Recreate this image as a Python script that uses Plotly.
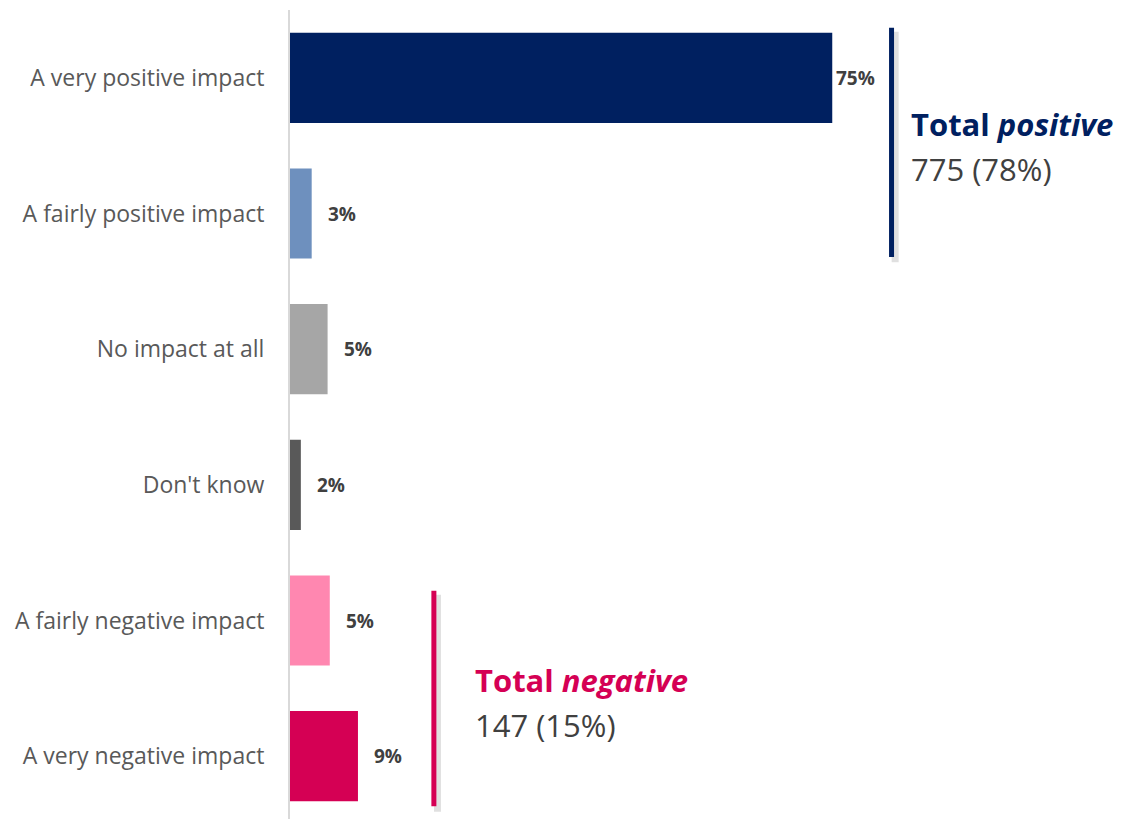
import plotly.graph_objects as go

categories = ["A very positive impact", "A fairly positive impact", "No impact at all",
              "Don't know", "A fairly negative impact", "A very negative impact"]
values = [75.0, 3.0, 5.2, 1.5, 5.5, 9.4]
value_labels = ["75%", "3%", "5%", "2%", "5%", "9%"]
colors = ["#002060", "#6E90BE", "#A6A6A6", "#595959", "#FF87B0", "#D50054"]
label_shift = [2, 14, 14, 14, 14, 14]

pos_title, pos_value = "Total", "positive"
pos_count = "775 (78%)"
neg_title, neg_value = "Total", "negative"
neg_count = "147 (15%)"

FONT = "'Open Sans', Calibri, sans-serif"
NAVY = "#002060"
CRIMSON = "#D50054"

fig = go.Figure()
fig.add_trace(go.Bar(
    y=categories, x=values, orientation="h",
    marker=dict(color=colors, line=dict(width=0)),
    hoverinfo="skip",
))

for cat, v, t, s in zip(categories, values, value_labels, label_shift):
    fig.add_annotation(x=v, y=cat, text=f"<b>{t}</b>", showarrow=False,
                       xanchor="left", xshift=s, yanchor="middle",
                       font=dict(family=FONT, size=19, color="#404040"))

# brackets (with soft shadow)
def bracket(x, y0, y1, color):
    fig.add_shape(type="line", x0=x + 0.5, x1=x + 0.5, y0=y0 + 0.03, y1=y1 + 0.04,
                  xref="x", yref="y",
                  line=dict(color="rgba(0,0,0,0.12)", width=7), layer="below")
    fig.add_shape(type="line", x0=x, x1=x, y0=y0, y1=y1, xref="x", yref="y",
                  line=dict(color=color, width=5))

bracket(83.2, -0.37, 1.32, NAVY)
bracket(19.9, 3.78, 5.37, CRIMSON)

def block(x, y_title, y_count, title, value, count, color):
    fig.add_annotation(x=x, y=y_title, xref="x", yref="y", xanchor="left", yanchor="middle",
                       showarrow=False,
                       text=f"<b>{title} <i>{value}</i></b>",
                       font=dict(family=FONT, size=31, color=color))
    fig.add_annotation(x=x, y=y_count, xref="x", yref="y", xanchor="left", yanchor="middle",
                       showarrow=False, text=count,
                       font=dict(family=FONT, size=31, color="#404040"))

block(85.6, 0.34, 0.67, pos_title, pos_value, pos_count, NAVY)
block(25.3, 4.44, 4.77, neg_title, neg_value, neg_count, CRIMSON)

fig.update_layout(
    width=1114, height=816,
    margin=dict(l=282, r=109, t=2, b=0),
    plot_bgcolor="white", paper_bgcolor="white",
    showlegend=False, bargap=0.335,
    xaxis=dict(range=[0, 100], visible=False, fixedrange=True),
    yaxis=dict(autorange="reversed", showline=True, linecolor="#D9D9D9", linewidth=2,
               showgrid=False, ticks="", ticklabelstandoff=19,
               tickfont=dict(family=FONT, size=23, color="#595959")),
)

fig.write_html("out.html")
